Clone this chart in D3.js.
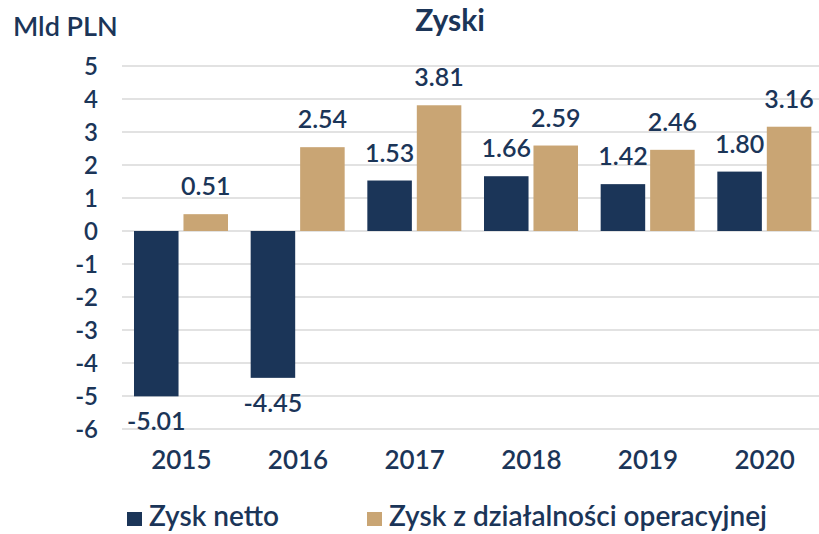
<!DOCTYPE html>
<html>
<head>
<meta charset="utf-8">
<script src="https://cdn.jsdelivr.net/npm/d3@7"></script>
<style>
  html, body { margin: 0; padding: 0; background: #fff; }
  svg text { font-family: Lato, "Open Sans", sans-serif; fill: #1b3558; }
</style>
</head>
<body>
<svg id="chart" width="819" height="534"></svg>
<script>
// Chart data (billion PLN)
const years = ["2015", "2016", "2017", "2018", "2019", "2020"];
const netProfit = [-5.01, -4.45, 1.53, 1.66, 1.42, 1.80];
const operatingProfit = [0.51, 2.54, 3.81, 2.59, 2.46, 3.16];
const seriesNames = ["Zysk netto", "Zysk z działalności operacyjnej"];
const yTicks = [5, 4, 3, 2, 1, 0, -1, -2, -3, -4, -5, -6];

const colors = ["#1b3558", "#c9a574"];
const svg = d3.select("#chart");

const x0 = d3.scaleBand().domain(years).range([123, 823]).padding(0);
const x1 = d3.scaleBand().domain([0, 1]).range([11, 105]).paddingInner(0.1);
const y = d3.scaleLinear().domain([-6, 5]).range([429, 66]);

// gridlines
svg.append("g").selectAll("line").data(yTicks).join("line")
  .attr("x1", 122).attr("x2", 819)
  .attr("y1", d => y(d)).attr("y2", d => y(d))
  .attr("stroke", "#d9d9d9").attr("stroke-width", 1.5);

// y axis labels (plain hyphen for negatives)
const yAxis = d3.axisLeft(y).tickValues(yTicks).tickSize(0).tickPadding(0).tickFormat(d => String(d));
const gy = svg.append("g").attr("transform", "translate(98,0)").call(yAxis);
gy.select(".domain").remove();
gy.selectAll("text").attr("font-size", 24).attr("font-weight", 600)
  .style("font-family", "Lato, sans-serif").attr("fill", colors[0]).attr("dy", "0.35em");

// x axis labels
const xAxis = d3.axisBottom(x0).tickSize(0).tickPadding(0);
const gx = svg.append("g").attr("transform", "translate(0,469)").call(xAxis);
gx.select(".domain").remove();
gx.selectAll("text").attr("font-size", 26).attr("font-weight", 600)
  .style("font-family", "Lato, sans-serif").attr("fill", colors[0]).attr("dy", 0);

// bars
const rows = years.map((yr, i) => ({ yr, vals: [netProfit[i], operatingProfit[i]] }));
const groups = svg.append("g").selectAll("g").data(rows).join("g")
  .attr("transform", d => `translate(${x0(d.yr)},0)`);

groups.selectAll("rect").data(d => d.vals.map((v, k) => ({ v, k }))).join("rect")
  .attr("x", d => x1(d.k))
  .attr("width", x1.bandwidth())
  .attr("y", d => y(Math.max(0, d.v)))
  .attr("height", d => Math.abs(y(d.v) - y(0)))
  .attr("fill", d => colors[d.k]);

groups.selectAll("text").data(d => d.vals.map((v, k) => ({ v, k }))).join("text")
  .attr("x", d => x1(d.k) + x1.bandwidth() / 2)
  .attr("y", d => d.v >= 0 ? y(d.v) - 19 : y(d.v) + 34)
  .attr("text-anchor", "middle")
  .attr("font-size", 25).attr("font-weight", 600)
  .text(d => d.v.toFixed(2));

// title and unit
svg.append("text").attr("x", 450).attr("y", 31).attr("text-anchor", "middle")
  .attr("font-size", 30).attr("font-weight", 700).text("Zyski");
svg.append("text").attr("x", 13).attr("y", 36)
  .attr("font-size", 27).attr("font-weight", 600).text("Mld PLN");

// legend
const legendX = [127, 367];
seriesNames.forEach((name, k) => {
  const g = svg.append("g").attr("transform", `translate(${legendX[k]},512)`);
  g.append("rect").attr("width", 15).attr("height", 14).attr("fill", colors[k]);
  g.append("text").attr("x", 22).attr("y", 14).attr("font-size", 28).attr("font-weight", 600).text(name);
});
</script>
</body>
</html>
